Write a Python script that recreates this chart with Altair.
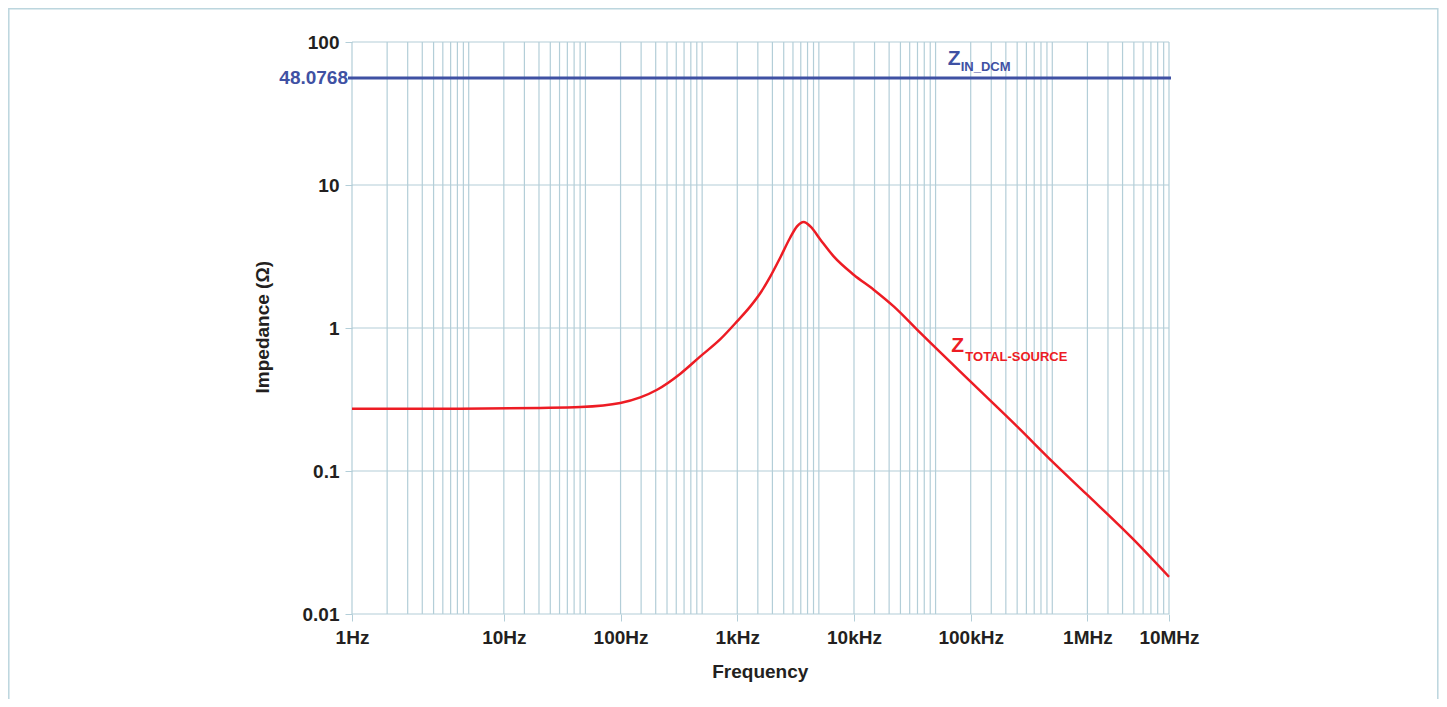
import altair as alt
import pandas as pd

# ---------------- data ----------------
freq_hz = [1, 8.47, 41.1, 90.4, 199, 295, 411, 651, 965, 1432, 1991, 2588, 3155,
           3844, 4650, 5660, 6500, 7413, 8460, 10320, 13390, 19870, 29480, 43750,
           74100, 198600, 499000, 1028000, 1987000, 4980000, 10000000]
z_total_source = [0.273, 0.273, 0.276, 0.280, 0.299, 0.327, 0.370, 0.479, 0.633,
                  0.835, 1.112, 1.416, 1.757, 2.296, 3.087, 4.26, 5.134, 5.511,
                  5.134, 4.145, 3.168, 2.359, 1.853, 1.416, 0.923, 0.423, 0.205,
                  0.114, 0.0683, 0.0331, 0.0182]

zin_dcm_level = 56.0          # position of the flat blue line as drawn
zin_dcm_text = "48.0768"      # its printed value

x_tick_values = [1, 20, 200, 2000, 20000, 200000, 2000000, 10000000]
x_tick_labels = ["1Hz", "10Hz", "100Hz", "1kHz", "10kHz", "100kHz", "1MHz", "10MHz"]
y_tick_values = [0.01, 0.1, 1, 10, 100]
y_tick_labels = ["0.01", "0.1", "1", "10", "100"]

grid_freqs = [k * 10 ** n for n in range(0, 7) for k in range(1, 10)] + [10 ** 7]

# annotation anchors (frequency, impedance)
zin_anchor = (127000, 69.6)
ztot_anchor = (136500, 0.683)

# ---------------- styling ----------------
W, H = 817, 572
GRID = "#b3ced8"
TEXT = "#231f20"
BLUE = "#3f51a3"
RED = "#ed1c24"
FONT = "Liberation Sans"
LABEL_SIZE = 19

xscale = alt.Scale(type="log", domain=[1, 1e7], nice=False)
yscale = alt.Scale(type="log", domain=[0.01, 100], nice=False)


def js_list(vals):
    return "[" + ",".join(repr(v) for v in vals) + "]"


x_label_expr = f"{js_list(x_tick_labels)}[indexof({js_list(x_tick_values)}, datum.value)]"
y_label_expr = f"{js_list(y_tick_labels)}[indexof({js_list(y_tick_values)}, datum.value)]"

x_axis = alt.Axis(values=x_tick_values, labelExpr=x_label_expr, grid=False, domain=False,
                  ticks=True, tickSize=7, tickColor=GRID, tickWidth=1,
                  labelFont=FONT, labelFontSize=LABEL_SIZE, labelFontWeight="bold",
                  labelColor=TEXT, labelPadding=7, labelFlush=False,
                  labelOverlap=False, title=None)
y_axis = alt.Axis(values=y_tick_values, labelExpr=y_label_expr, grid=False, domain=False,
                  ticks=True, tickSize=7, tickColor=GRID, tickWidth=1,
                  labelFont=FONT, labelFontSize=LABEL_SIZE, labelFontWeight="bold",
                  labelColor=TEXT, labelPadding=6, labelFlush=False,
                  labelOverlap=False, title=None)


def X():
    return alt.X("freq:Q", scale=xscale, axis=x_axis)


def Y():
    return alt.Y("z:Q", scale=yscale, axis=y_axis)


# ---------------- tables ----------------
curve_df = pd.DataFrame({"freq": freq_hz, "z": z_total_source})
vgrid_df = pd.DataFrame({"freq": grid_freqs})
hgrid_df = pd.DataFrame({"z": y_tick_values})
zin_df = pd.DataFrame({"z": [zin_dcm_level], "label": [zin_dcm_text]})
one_df = pd.DataFrame({"a": [0]})
ann_df = pd.DataFrame({
    "freq": [zin_anchor[0], zin_anchor[0], ztot_anchor[0], ztot_anchor[0]],
    "z": [zin_anchor[1], zin_anchor[1], ztot_anchor[1], ztot_anchor[1]],
    "text": ["Z", "IN_DCM", "Z", "TOTAL-SOURCE"],
    "kind": ["big", "sub", "big", "sub"],
    "series": ["zin", "zin", "ztot", "ztot"],
})

# ---------------- layers ----------------
border = alt.Chart(one_df).mark_rect(fillOpacity=0, stroke="#bcd6de", strokeWidth=1.5).encode(
    x=alt.value(-343.2), x2=alt.value(1085.8), y=alt.value(-33.2), y2=alt.value(700)
)

vgrid = alt.Chart(vgrid_df).mark_rule(color=GRID, strokeWidth=1.2).encode(x=X())

hgrid = alt.Chart(hgrid_df).mark_rule(color=GRID, strokeWidth=1.2).encode(y=Y())

zin_line = alt.Chart(zin_df).mark_rule(color=BLUE, strokeWidth=3).encode(
    y=Y(), x=alt.value(-4), x2=alt.value(W + 2),
)

zin_label = alt.Chart(zin_df).mark_text(
    align="right", baseline="middle", font=FONT, fontSize=LABEL_SIZE, fontWeight="bold", color=BLUE
).encode(y=Y(), x=alt.value(-4), text="label:N")

curve = alt.Chart(curve_df).mark_line(color=RED, strokeWidth=2.5, interpolate="monotone").encode(
    x=X(), y=Y()
)

big_z = alt.Chart(ann_df).transform_filter("datum.kind == 'big'").mark_text(
    align="left", baseline="alphabetic", font=FONT, fontSize=21, fontWeight="bold"
).encode(
    x=X(), y=Y(), text="text:N",
    color=alt.Color("series:N", scale=alt.Scale(domain=["zin", "ztot"], range=[BLUE, RED]), legend=None),
)

sub_zin = alt.Chart(ann_df).transform_filter("datum.kind == 'sub' && datum.series == 'zin'").mark_text(
    align="left", baseline="alphabetic", font=FONT, fontSize=13, fontWeight="bold",
    color=BLUE, dx=13, dy=6.6
).encode(x=X(), y=Y(), text="text:N")

sub_ztot = alt.Chart(ann_df).transform_filter("datum.kind == 'sub' && datum.series == 'ztot'").mark_text(
    align="left", baseline="alphabetic", font=FONT, fontSize=13, fontWeight="bold",
    color=RED, dx=14, dy=9
).encode(x=X(), y=Y(), text="text:N")

x_title = alt.Chart(one_df).mark_text(
    text="Frequency", align="center", baseline="alphabetic", font=FONT, fontSize=19,
    fontWeight="bold", color=TEXT
).encode(x=alt.value(408.3), y=alt.value(636))

y_title = alt.Chart(one_df).mark_text(
    text="Impedance (Ω)", align="center", baseline="middle", angle=270, font=FONT,
    fontSize=19, fontWeight="bold", color=TEXT
).encode(x=alt.value(-88.7), y=alt.value(285.2))

chart = alt.layer(
    border, vgrid, hgrid, zin_line, zin_label, curve, big_z, sub_zin, sub_ztot, x_title, y_title
).properties(
    width=W, height=H,
    autosize=alt.AutoSizeParams(type="none"),
    padding={"left": 344, "top": 34, "right": 270, "bottom": 85},
    background="white",
).configure_view(stroke=None)

chart.save("out.html", embed_options={"renderer": "svg", "actions": False})
